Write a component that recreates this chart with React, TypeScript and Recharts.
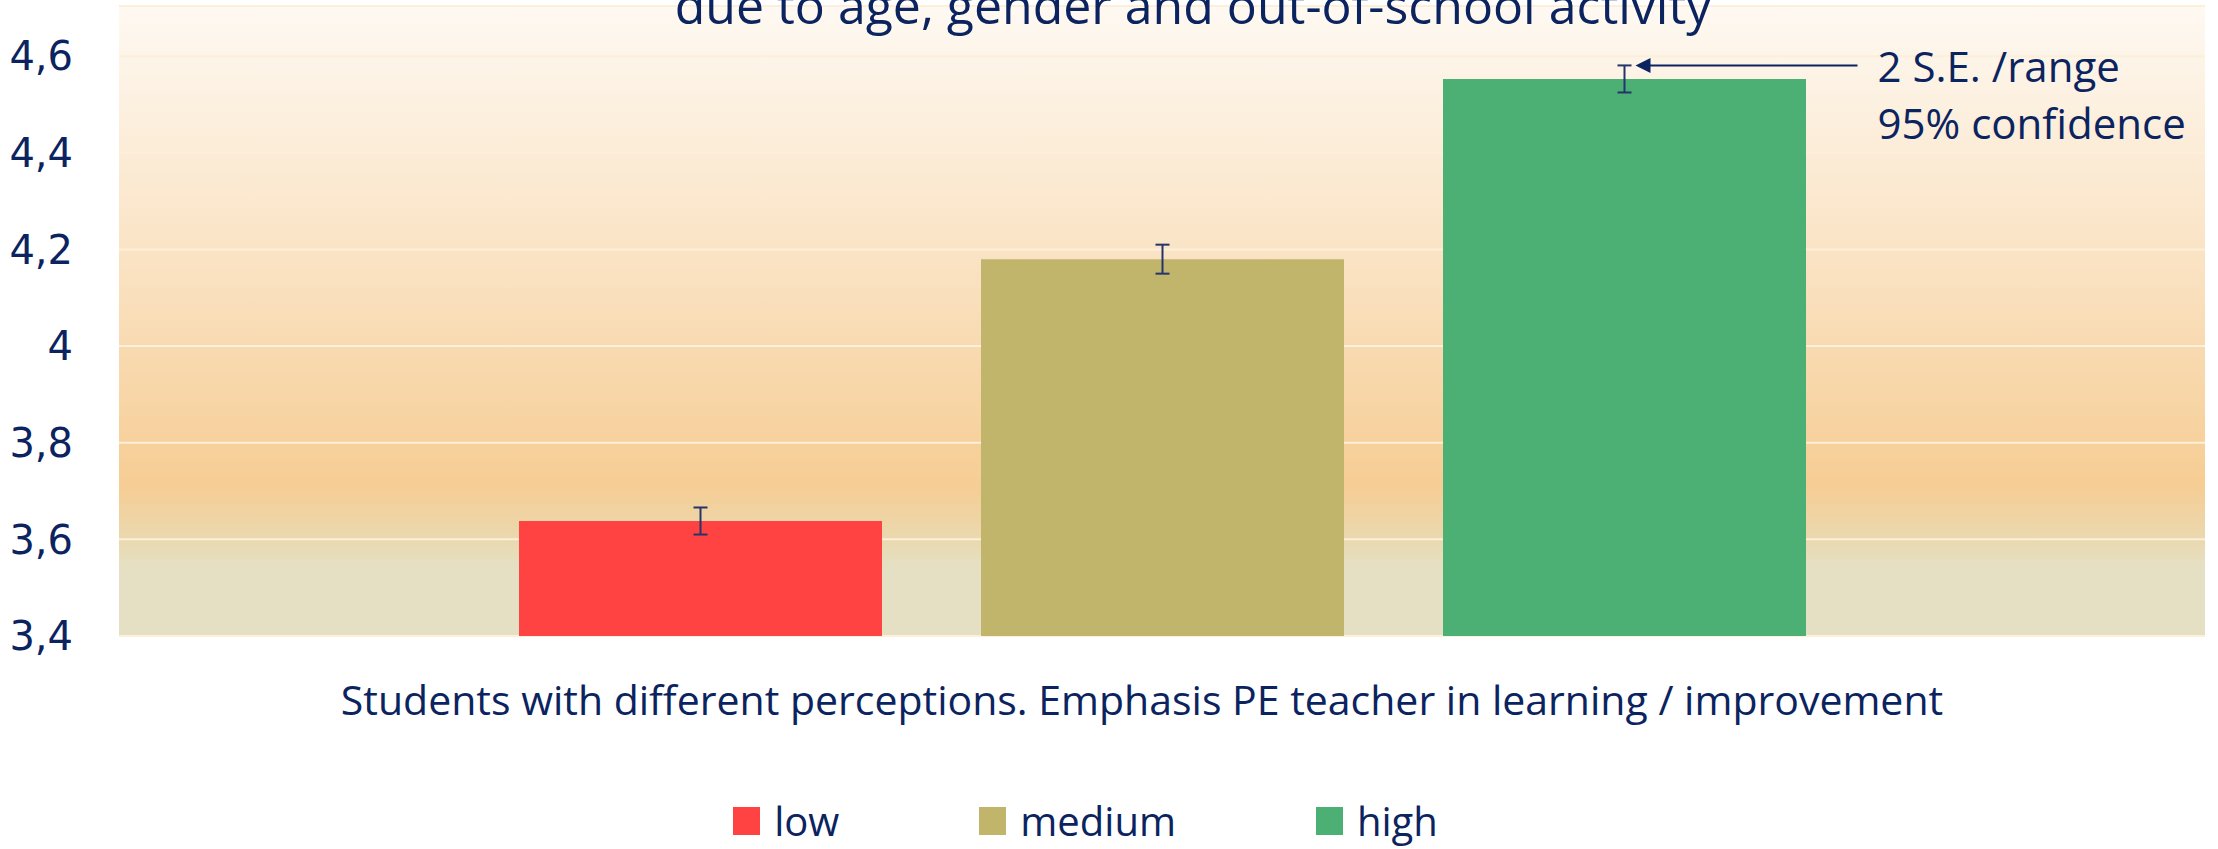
import { BarChart, Bar, XAxis, YAxis, CartesianGrid, ErrorBar, Legend, LabelList } from "recharts";

const categories = ["Students with different perceptions. Emphasis PE teacher in learning / improvement"];
const seriesNames = ["low", "medium", "high"];
const seriesValues = [3.638, 4.18, 4.553];
const seriesErrors = [0.028, 0.03, 0.028];
const seriesColors = ["#FF4343", "#C1B46B", "#4CAF73"];
const yTicks = [3.4, 3.6, 3.8, 4, 4.2, 4.4, 4.6];
const yDomain = [3.4, 4.704];
const titleText = "due to age, gender and out-of-school activity";
const noteLines = ["2 S.E. /range", "95% confidence"];

const NAVY = "#0B2460";
const SANS = "'Open Sans', 'Noto Sans', sans-serif";

const data = categories.map((name) => {
  const row: Record<string, string | number> = { name };
  seriesNames.forEach((s, i) => {
    row[s] = seriesValues[i];
    row[s + "Err"] = seriesErrors[i];
  });
  return row;
});

function CategoryTick({ x, y, payload }: any) {
  return (
    <text x={x} y={y} dx={-20} dy={55} textAnchor="middle" dominantBaseline="central"
      fill={NAVY} fontFamily={SANS} fontSize={41}>
      {payload.value}
    </text>
  );
}

// arrow + note pointing at the top of the "high" error bar
function NoteLabel(props: any) {
  const { x, y, width, height, value } = props;
  const v = Number(value);
  const pxPerUnit = height / (v - yDomain[0]);
  const errTop = y - seriesErrors[2] * pxPerUnit;
  const cx = x + width / 2;
  const tipX = cx + 11;
  return (
    <g>
      <line x1={tipX + 14} y1={errTop} x2={cx + 233} y2={errTop} stroke={NAVY} strokeWidth={2} />
      <polygon points={`${tipX},${errTop} ${tipX + 15},${errTop - 7.5} ${tipX + 15},${errTop + 7.5}`} fill={NAVY} />
      {noteLines.map((t, i) => (
        <text key={t} x={cx + 253} y={errTop + i * 57} dominantBaseline="central"
          fill={NAVY} fontFamily={SANS} fontSize={42}>
          {t}
        </text>
      ))}
    </g>
  );
}

function renderLegend() {
  return (
    <div style={{ display: "flex", justifyContent: "center", alignItems: "center", height: 56, paddingRight: 34 }}>
      {seriesNames.map((n, i) => (
        <div key={n} style={{ display: "flex", alignItems: "center", marginRight: i < seriesNames.length - 1 ? 140 : 0 }}>
          <span style={{ display: "inline-block", width: 27, height: 28, background: seriesColors[i], marginRight: 14 }} />
          <span style={{ color: NAVY, fontFamily: SANS, fontSize: 40, lineHeight: "56px" }}>{n}</span>
        </div>
      ))}
    </div>
  );
}

export default function App() {
  return (
    <div style={{ position: "absolute", left: 0, top: 0, width: 2218, height: 849, background: "#fff" }}>
      <BarChart width={2218} height={849} data={data} barSize={363} barGap={99}
        margin={{ top: 6, right: 13, left: 0, bottom: 0 }}>
        <defs>
          <linearGradient id="plotBg" x1="0" y1="0" x2="0" y2="1">
            <stop offset="0%" stopColor="#FEF9F2" />
            <stop offset="40%" stopColor="#FAE3C4" />
            <stop offset="76%" stopColor="#F6CD94" />
            <stop offset="85%" stopColor="#EAD9B0" />
            <stop offset="89%" stopColor="#E5E0C4" />
            <stop offset="100%" stopColor="#E5DFC3" />
          </linearGradient>
        </defs>
        <text x={1193} y={24} textAnchor="middle" fill={NAVY} fontFamily={SANS} fontSize={50}>{titleText}</text>
        <CartesianGrid vertical={false} fill="url(#plotBg)" fillOpacity={1} stroke="#FDEFD9" strokeWidth={2} />
        <XAxis dataKey="name" height={157} axisLine={false} tickLine={false} tick={<CategoryTick />} interval={0} />
        <YAxis type="number" domain={yDomain} ticks={yTicks} width={119} axisLine={false} tickLine={false}
          tickMargin={40} allowDataOverflow
          tickFormatter={(v: number) => String(v).replace(".", ",")}
          tick={{ fill: NAVY, fontFamily: "'DejaVu Sans', sans-serif", fontSize: 40 }} />
        <Legend verticalAlign="bottom" content={renderLegend} />
        {seriesNames.map((s, i) => (
          <Bar key={s} dataKey={s} name={s} fill={seriesColors[i]} isAnimationActive={false}>
            <ErrorBar dataKey={s + "Err"} width={7} stroke="#25346A" strokeWidth={2} direction="y" />
            {s === "high" && <LabelList dataKey={s} content={<NoteLabel />} />}
          </Bar>
        ))}
      </BarChart>
    </div>
  );
}
